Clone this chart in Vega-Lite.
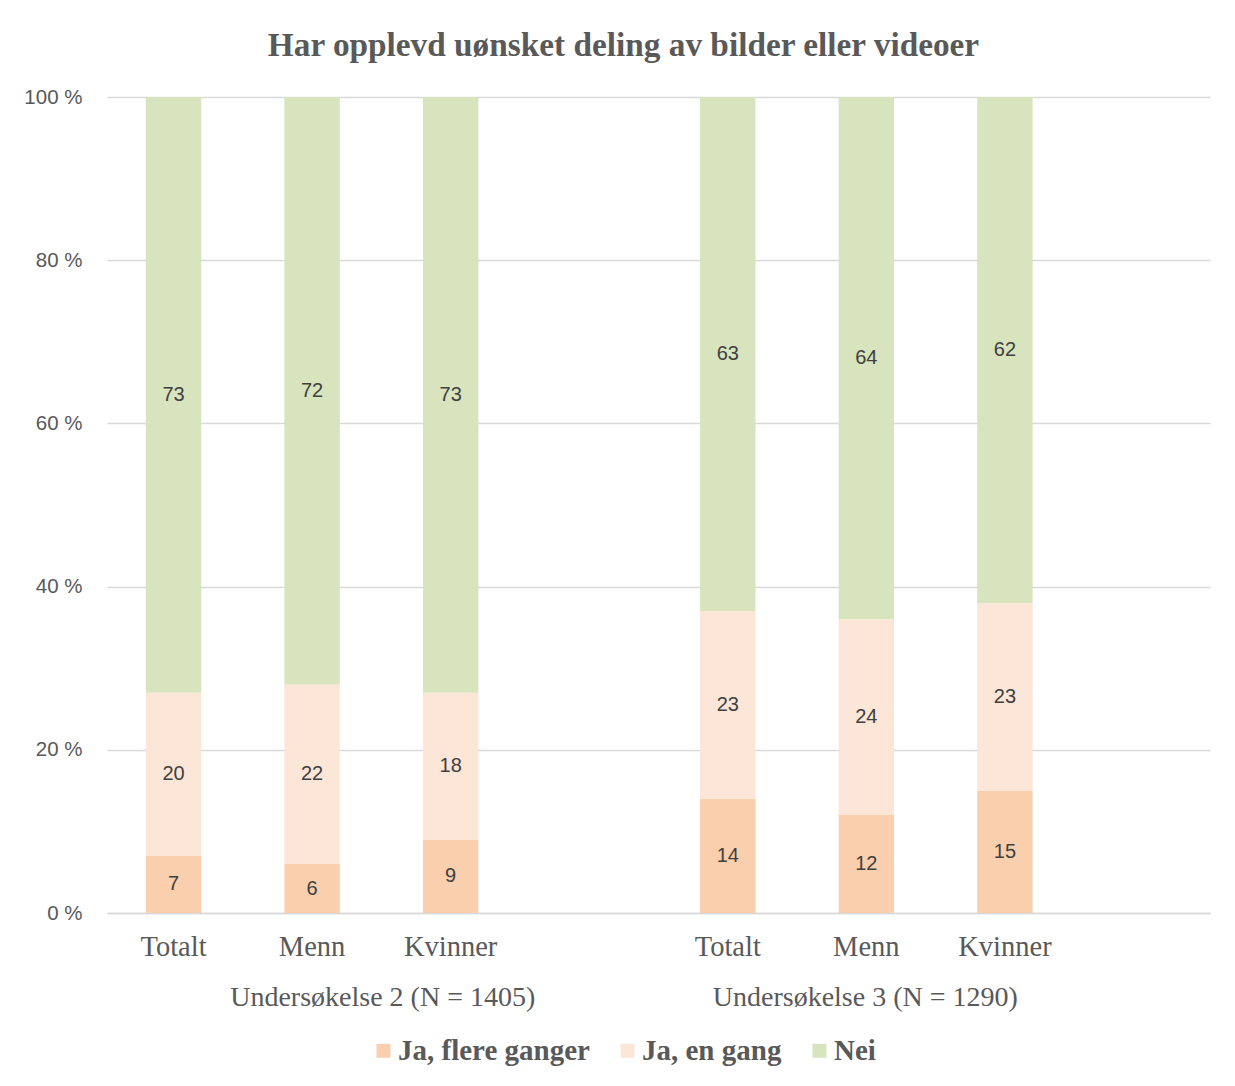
{
  "$schema": "https://vega.github.io/schema/vega-lite/v6.json",
  "autosize": {"type": "none"},
  "width": 1103,
  "height": 816,
  "padding": {"left": 107, "top": 97, "right": 25, "bottom": 173},
  "background": "white",
  "title": {
    "text": "Har opplevd uønsket deling av bilder eller videoer",
    "font": "Liberation Serif",
    "fontSize": 33.3,
    "fontWeight": "bold",
    "color": "#595959",
    "anchor": "middle",
    "dx": -35,
    "offset": 24
  },
  "config": {
    "view": {"stroke": null},
    "axis": {"gridColor": "#D9D9D9", "domainColor": "#D9D9D9"}
  },
  "resolve": {"scale": {"x": "independent"}},
  "layer": [
    {
      "data": {
        "values": [
          {"slot": "U2 Totalt", "resp": "Ja, flere ganger", "k": 1, "v": 7},
          {"slot": "U2 Totalt", "resp": "Ja, en gang", "k": 2, "v": 20},
          {"slot": "U2 Totalt", "resp": "Nei", "k": 3, "v": 73},
          {"slot": "U2 Menn", "resp": "Ja, flere ganger", "k": 1, "v": 6},
          {"slot": "U2 Menn", "resp": "Ja, en gang", "k": 2, "v": 22},
          {"slot": "U2 Menn", "resp": "Nei", "k": 3, "v": 72},
          {"slot": "U2 Kvinner", "resp": "Ja, flere ganger", "k": 1, "v": 9},
          {"slot": "U2 Kvinner", "resp": "Ja, en gang", "k": 2, "v": 18},
          {"slot": "U2 Kvinner", "resp": "Nei", "k": 3, "v": 73},
          {"slot": "U3 Totalt", "resp": "Ja, flere ganger", "k": 1, "v": 14},
          {"slot": "U3 Totalt", "resp": "Ja, en gang", "k": 2, "v": 23},
          {"slot": "U3 Totalt", "resp": "Nei", "k": 3, "v": 63},
          {"slot": "U3 Menn", "resp": "Ja, flere ganger", "k": 1, "v": 12},
          {"slot": "U3 Menn", "resp": "Ja, en gang", "k": 2, "v": 24},
          {"slot": "U3 Menn", "resp": "Nei", "k": 3, "v": 64},
          {"slot": "U3 Kvinner", "resp": "Ja, flere ganger", "k": 1, "v": 15},
          {"slot": "U3 Kvinner", "resp": "Ja, en gang", "k": 2, "v": 23},
          {"slot": "U3 Kvinner", "resp": "Nei", "k": 3, "v": 62}
        ]
      },
      "transform": [
        {"stack": "v", "groupby": ["slot"], "sort": [{"field": "k", "order": "ascending"}], "as": ["y0", "y1"]},
        {"calculate": "(datum.y0 + datum.y1) / 2", "as": "mid"}
      ],
      "encoding": {
        "x": {
          "field": "slot",
          "type": "nominal",
          "scale": {
            "domain": ["U2 Totalt", "U2 Menn", "U2 Kvinner", "U2 gap", "U3 Totalt", "U3 Menn", "U3 Kvinner", "U3 gap"],
            "paddingInner": 0.6,
            "paddingOuter": 0.28
          },
          "axis": {
            "title": null,
            "labelExpr": "indexof(datum.label, 'gap') >= 0 ? '' : split(datum.label, ' ')[1]",
            "labelAngle": 0,
            "labelFont": "Liberation Serif",
            "labelFontSize": 28.5,
            "labelColor": "#595959",
            "labelPadding": 19,
            "labelBaseline": "top",
            "ticks": false,
            "domain": true,
            "domainColor": "#D9D9D9",
            "domainWidth": 1.5,
            "grid": false
          }
        }
      },
      "layer": [
        {
          "mark": {"type": "bar"},
          "encoding": {
            "y": {
              "field": "y0",
              "type": "quantitative",
              "scale": {"domain": [0, 100], "nice": false},
              "axis": {
                "title": null,
                "values": [0, 20, 40, 60, 80, 100],
                "labelExpr": "datum.value + ' %'",
                "labelFont": "Liberation Sans",
                "labelFontSize": 20.5,
                "labelColor": "#595959",
                "labelPadding": 25,
                "ticks": false,
                "domain": false,
                "grid": true,
                "gridColor": "#D9D9D9",
                "gridWidth": 1.5
              }
            },
            "y2": {"field": "y1"},
            "color": {
              "field": "resp",
              "type": "nominal",
              "scale": {
                "domain": ["Ja, flere ganger", "Ja, en gang", "Nei"],
                "range": ["#F9CFAE", "#FCE6D7", "#D8E4BE"]
              },
              "legend": {
                "title": null,
                "orient": "none",
                "direction": "horizontal",
                "legendX": 262,
                "legendY": 939,
                "padding": 0,
                "symbolType": "square",
                "symbolSize": 196,
                "symbolStrokeWidth": 0,
                "symbolOpacity": 1,
                "labelFont": "Liberation Serif",
                "labelFontSize": 29,
                "labelFontWeight": "bold",
                "labelColor": "#595959",
                "labelOffset": 0,
                "columnPadding": 23,
                "labelLimit": 400
              }
            }
          }
        },
        {
          "mark": {"type": "text", "font": "Liberation Sans", "fontSize": 20, "color": "#404040", "baseline": "middle"},
          "encoding": {
            "y": {"field": "mid", "type": "quantitative"},
            "text": {"field": "v", "type": "quantitative"}
          }
        }
      ]
    },
    {
      "data": {
        "values": [
          {"grp": "Undersøkelse 2 (N = 1405)", "pos": 2},
          {"grp": "Undersøkelse 3 (N = 1290)", "pos": 5.5}
        ]
      },
      "mark": {"type": "text", "font": "Liberation Serif", "fontSize": 28, "color": "#595959", "baseline": "alphabetic", "dy": 93},
      "encoding": {
        "x": {"field": "pos", "type": "quantitative", "scale": {"domain": [0, 8], "nice": false, "zero": false}, "axis": null},
        "y": {"datum": 0, "type": "quantitative"},
        "text": {"field": "grp"}
      }
    }
  ]
}
